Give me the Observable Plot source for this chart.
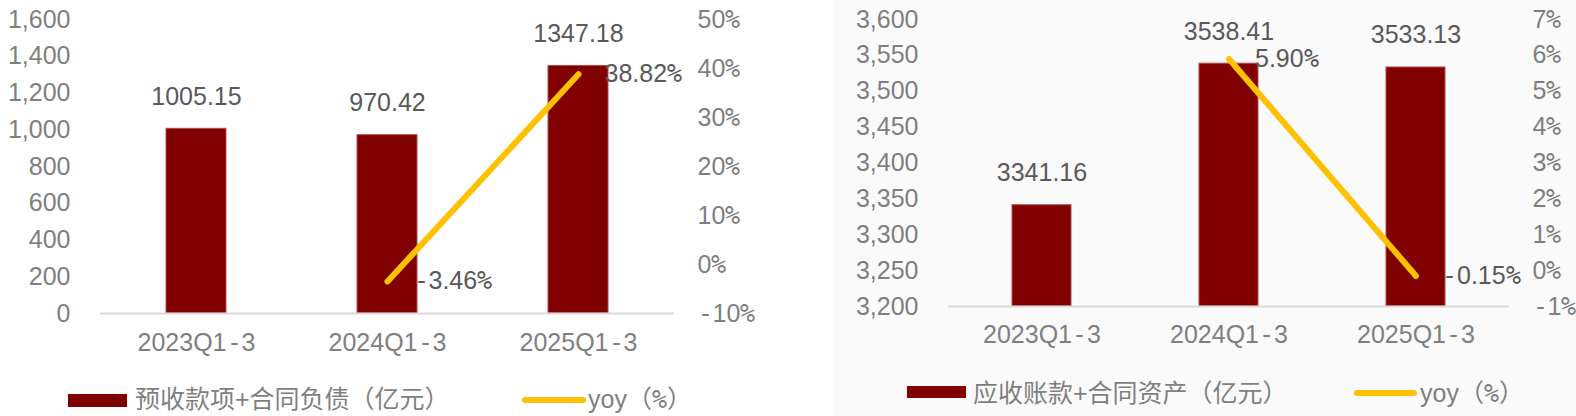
<!DOCTYPE html>
<html><head><meta charset="utf-8">
<script src="https://cdn.jsdelivr.net/npm/d3@7"></script>
<script src="https://cdn.jsdelivr.net/npm/@observablehq/plot@0.6"></script>
<style>
@font-face{font-family:"NarrowSym";src:local("DejaVu Sans Mono");unicode-range:U+002D,U+0025;}
body{margin:0;background:#fff;font-family:"NarrowSym","Liberation Sans","Noto Sans CJK SC",sans-serif;}
#wrap{position:relative;width:1576px;height:416px;overflow:hidden;}
.panel{position:absolute;top:0;height:416px;}
.leg{position:absolute;font-size:25px;color:#7f7f7f;height:30px;line-height:30px;white-space:nowrap;}
.sw{position:absolute;}
</style></head><body>
<div id="wrap">
 <div id="p1" class="panel" style="left:0;width:833px"></div>
 <div id="p2" class="panel" style="left:833px;width:743px;background:#fafafa"></div>
</div>
<script>
const periods = ["2023Q1-3", "2024Q1-3", "2025Q1-3"];
const advanceValues = [1005.15, 970.42, 1347.18];
const advanceYoy = [null, -3.46, 38.82];
const receivableValues = [3341.16, 3538.41, 3533.13];
const receivableYoy = [null, 5.90, -0.15];
const leftTicks = [0, 200, 400, 600, 800, 1000, 1200, 1400, 1600];
const leftPctTicks = [-10, 0, 10, 20, 30, 40, 50];
const rightTicks = [3200, 3250, 3300, 3350, 3400, 3450, 3500, 3550, 3600];
const rightPctTicks = [-1, 0, 1, 2, 3, 4, 5, 6, 7];
const legendNames = ["预收款项+合同负债（亿元）", "yoy（%）", "应收账款+合同资产（亿元）", "yoy（%）"];

const BAR = "#800000", LINE = "#FFC000", TXT = "#595959", TICK = "#7f7f7f";
const FONT = '"NarrowSym","Liberation Sans","Noto Sans CJK SC",sans-serif';

function makeChart(o) {
  const [y0, y1] = [o.ticks[0], o.ticks[o.ticks.length - 1]];
  const [p0, p1] = [o.pctTicks[0], o.pctTicks[o.pctTicks.length - 1]];
  const toY = p => y0 + (p - p0) / (p1 - p0) * (y1 - y0);
  const fromY = v => p0 + (v - y0) / (y1 - y0) * (p1 - p0);
  const rows = periods.map((p, i) => ({period: p, value: o.values[i], yoy: o.yoy[i]}));
  const lineRows = rows.filter(d => d.yoy != null).map(d => ({...d, yy: toY(d.yoy)}));
  return Plot.plot({
    width: o.width, height: 372,
    marginLeft: o.ml, marginRight: o.mr, marginTop: 19, marginBottom: o.mb,
    style: {fontSize: "25px", fontFamily: FONT, color: TICK, background: "transparent"},
    x: {domain: periods, paddingInner: o.pi, paddingOuter: o.pi / 2, label: null},
    y: {domain: [y0, y1], label: null},
    marks: [
      Plot.axisY({ticks: o.ticks, tickFormat: d3.format(","), tickSize: 0, tickPadding: 30, anchor: "left", label: null, fill: TICK}),
      Plot.axisY({ticks: o.pctTicks.map(toY), tickFormat: v => Math.round(fromY(v)) + "%", tickSize: 0, tickPadding: 23, anchor: "right", label: null, fill: TICK}),
      Plot.axisX({tickSize: 0, tickPadding: o.xpad, label: null, fill: TICK}),
      Plot.barY(rows, {x: "period", y1: y0, y2: "value", fill: BAR, stroke: "#b54a4a", strokeWidth: 1}),
      Plot.ruleY([y0], {stroke: "#d9d9d9", strokeWidth: 2}),
      Plot.text(rows, {x: "period", y: "value", text: d => d.value.toFixed(2), dy: -32, lineAnchor: "middle", fill: TXT, fontSize: 25}),
      Plot.line(lineRows, {x: "period", y: "yy", stroke: LINE, strokeWidth: 6, strokeLinecap: "round", strokeLinejoin: "round"}),
      Plot.text(lineRows, {x: "period", y: "yy", text: d => d.yoy.toFixed(2) + "%", dx: 26, textAnchor: "start", lineAnchor: "middle", fill: TXT, fontSize: 25})
    ]
  });
}

document.getElementById("p1").append(makeChart({
  width: 833, ml: 100, mr: 159, mb: 59, pi: 0.686, xpad: 20,
  values: advanceValues, yoy: advanceYoy, ticks: leftTicks, pctTicks: leftPctTicks
}));
document.getElementById("p2").append(makeChart({
  width: 743, ml: 115, mr: 67, mb: 66, pi: 0.684, xpad: 19,
  values: receivableValues, yoy: receivableYoy, ticks: rightTicks, pctTicks: rightPctTicks
}));

// legends
const wrap = document.getElementById("wrap");
function swatch(left, top, w, h, color, radius) {
  const d = document.createElement("div");
  d.className = "sw";
  Object.assign(d.style, {left: left + "px", top: top + "px", width: w + "px", height: h + "px", background: color, borderRadius: radius + "px"});
  wrap.append(d);
}
function label(left, cy, text) {
  const d = document.createElement("div");
  d.className = "leg";
  d.style.left = left + "px";
  d.style.top = (cy - 15) + "px";
  d.textContent = text;
  wrap.append(d);
}
swatch(68, 394, 59, 13, BAR, 0);
label(135, 399, legendNames[0]);
swatch(522, 397, 64, 6, LINE, 3);
label(588, 399, legendNames[1]);
swatch(907, 386, 59, 12, BAR, 0);
label(973, 393, legendNames[2]);
swatch(1354, 390, 63, 6, LINE, 3);
label(1420, 393, legendNames[3]);
</script>
</body></html>
